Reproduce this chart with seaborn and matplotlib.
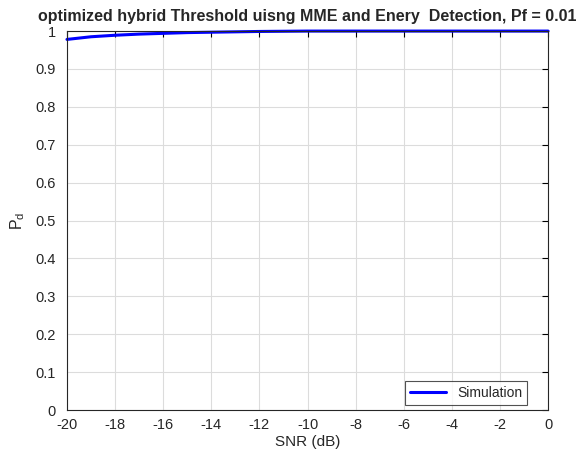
import matplotlib
matplotlib.use("Agg")
import matplotlib.pyplot as plt
import seaborn as sns
import pandas as pd
import numpy as np

snr_db = [-20, -19, -18, -17, -16, -15, -14, -13, -12, -11, -10, -9, -8, -7, -6, -5, -4, -3, -2, -1, 0]
pd_sim = [0.978, 0.985, 0.989, 0.992, 0.994, 0.996, 0.997, 0.998, 0.999, 0.9995, 1.0,
          1.0, 1.0, 1.0, 1.0, 1.0, 1.0, 1.0, 1.0, 1.0, 1.0]
xticks = list(range(-20, 1, 2))
yticks = [0, 0.1, 0.2, 0.3, 0.4, 0.5, 0.6, 0.7, 0.8, 0.9, 1]
ytick_labels = ["0", "0.1", "0.2", "0.3", "0.4", "0.5", "0.6", "0.7", "0.8", "0.9", "1"]

sns.set_style("white")
plt.rcParams['font.family'] = ['Liberation Sans', 'DejaVu Sans']
plt.rcParams['mathtext.fontset'] = 'custom'
plt.rcParams['mathtext.rm'] = 'Liberation Sans'

df = pd.DataFrame({"SNR": snr_db, "Pd": pd_sim, "series": "Simulation"})

fig = plt.figure(figsize=(5.8, 4.57), dpi=100)
ax = fig.add_axes([0.1155, 0.1028, 0.8295, 0.8292])
sns.lineplot(data=df, x="SNR", y="Pd", hue="series", palette=["#0000ff"],
             linewidth=2.2, ax=ax, clip_on=False)

ax.set_xlim(-20, 0)
ax.set_ylim(0, 1)
ax.set_xticks(xticks)
ax.set_xticklabels([str(t) for t in xticks])
ax.set_yticks(yticks)
ax.set_yticklabels(ytick_labels)
ax.grid(True, color="#dcdcdc", linewidth=0.8)
ax.tick_params(direction="in", length=4, color="black", labelsize=10.5, labelcolor="#262626",
               top=True, right=True)
ax.tick_params(axis="y", pad=8)
ax.tick_params(axis="x", pad=6)
for s in ax.spines.values():
    s.set_visible(True)
    s.set_color("#262626")
    s.set_linewidth(0.8)

ax.set_xlabel("SNR (dB)", fontsize=11, color="#262626", labelpad=2)
ax.set_ylabel(r"$\mathregular{P_d}$", fontsize=11.5, color="#262626", labelpad=6)
ax.set_title("optimized hybrid Threshold uisng MME and Enery  Detection, Pf = 0.01",
             fontsize=11.5, fontweight="bold", pad=7)

leg = ax.legend(loc="lower right", bbox_to_anchor=(0.956, 0.013), frameon=True, fancybox=False,
                fontsize=10, handlelength=2.6, borderaxespad=0.0, edgecolor="#262626",
                borderpad=0.35)
leg.get_frame().set_linewidth(0.8)

fig.savefig("out.png", dpi=100)
